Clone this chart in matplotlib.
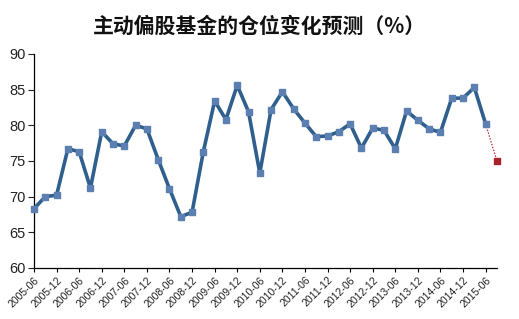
import matplotlib
matplotlib.use("Agg")
import matplotlib.pyplot as plt

plt.rcParams['font.family'] = ['Liberation Sans Narrow', 'Liberation Sans', 'DejaVu Sans']

# quarterly fund positions 2005-06 .. 2015-06 (%)
position = [68.3, 70.0, 70.2, 76.7, 76.3, 71.2, 79.1, 77.4, 77.1, 80.0,
            79.5, 75.2, 71.1, 67.2, 67.8, 76.3, 83.4, 80.8, 85.6, 81.9,
            73.3, 82.2, 84.7, 82.3, 80.3, 78.4, 78.5, 79.1, 80.2, 76.8,
            79.6, 79.3, 76.7, 82.0, 80.7, 79.5, 79.0, 83.8, 83.8, 85.3,
            80.2]
forecast = 75.0
tick_labels = ['2005-06', '2005-12', '2006-06', '2006-12', '2007-06', '2007-12',
               '2008-06', '2008-12', '2009-06', '2009-12', '2010-06', '2010-12',
               '2011-06', '2011-12', '2012-06', '2012-12', '2013-06', '2013-12',
               '2014-06', '2014-12', '2015-06']

fig = plt.figure(figsize=(5.19, 3.19), dpi=100)
ax = fig.add_axes([0.0655, 0.16, 0.893, 0.671])

x = list(range(len(position)))
n = len(position)
# dotted link to forecast
ax.plot([n - 1, n], [position[-1], forecast], color='#c0303a', lw=0.9,
        linestyle=(0, (1.2, 1.2)), zorder=2, clip_on=False)
ax.plot(x, position, color='#2f5f8c', lw=2.6, marker='s', markersize=4.5,
        markerfacecolor='#5a7fb0', markeredgecolor='#5a7fb0', zorder=3,
        clip_on=False)
ax.plot([n], [forecast], marker='s', markersize=5, color='#a8222c', zorder=4,
        clip_on=False)

ax.set_ylim(60, 90)
ax.set_yticks(range(60, 91, 5))
ax.set_xlim(0, 41.05)
ax.set_xticks(range(0, 2 * len(tick_labels), 2))
ax.set_xticklabels(tick_labels, rotation=45, ha='right', rotation_mode='anchor',
                   fontsize=7.5, color='#222222')
ax.tick_params(axis='y', labelsize=10.5, length=4, width=0.8, pad=2, colors='#222222')
ax.tick_params(axis='x', length=3, width=0.8, pad=2)

for s in ['top', 'right']:
    ax.spines[s].set_visible(False)
for s in ['left', 'bottom']:
    ax.spines[s].set_linewidth(0.9)
    ax.spines[s].set_color('black')

fig.text(0.5, 0.917, '主动偏股基金的仓位变化预测（%）', ha='center', va='center',
         fontsize=15, fontweight='bold', color='#111111',
         family=['Noto Sans CJK SC', 'DejaVu Sans'])

fig.savefig('out.png', dpi=100)
